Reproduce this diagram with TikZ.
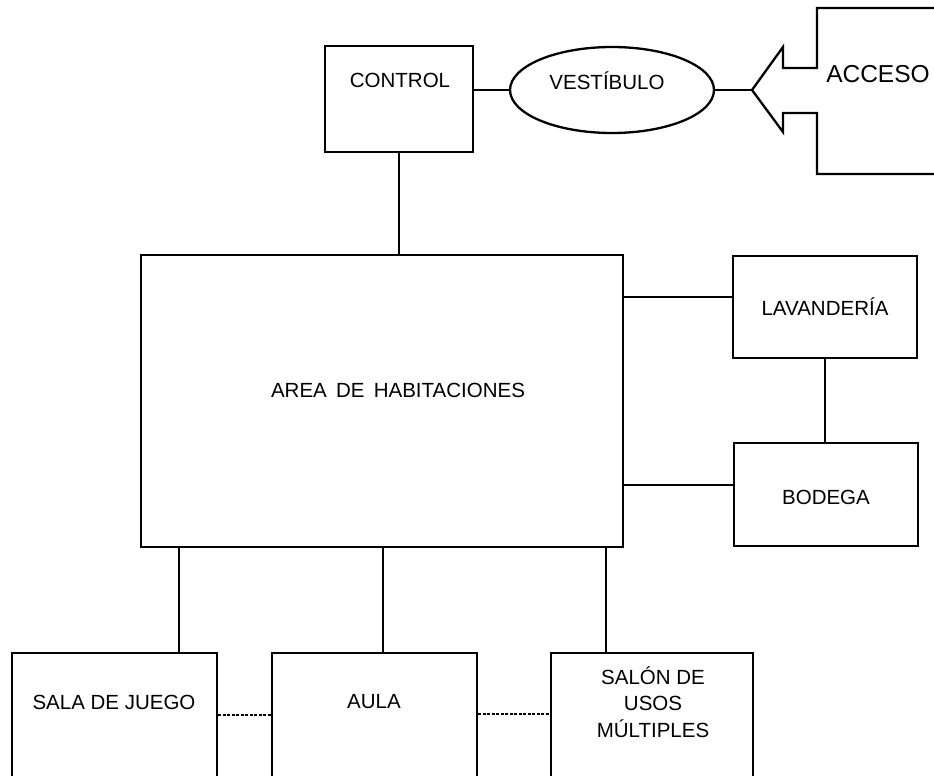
\documentclass[tikz,border=0pt]{standalone}
\usepackage{fontspec}
\setmainfont{Liberation Sans}
\usetikzlibrary{shapes.geometric}
\begin{document}
\begin{tikzpicture}[x=1pt,y=-1pt,
  box/.style={draw=black,line width=2.3pt,rectangle,inner sep=0pt,fill=none},
  lab/.style={inner sep=0pt,font=\fontsize{20.5}{26.5}\selectfont,align=center,text=black},
  link/.style={draw=black,line width=2.3pt},
  dotlink/.style={draw=black,line width=1.3pt,dash pattern=on 3pt off 1.5pt}]
\useasboundingbox (0,0) rectangle (934,776);
\fill[white] (0,0) rectangle (934,776);
\clip (0,0) rectangle (934,776);
% boxes
\node[box,minimum width=148pt,minimum height=106pt] (control) at (399,99) {};
\node[box,ellipse,minimum width=204pt,minimum height=86pt] (vest) at (612,90) {};
\node[box,minimum width=482pt,minimum height=292pt] (area) at (382,401) {};
\node[box,minimum width=184pt,minimum height=102pt] (lav) at (825,307) {};
\node[box,minimum width=184pt,minimum height=103pt] (bod) at (826,494.5) {};
\node[box,minimum width=205pt,minimum height=180pt,anchor=north] (sala) at (114.5,652) {};
\node[box,minimum width=205pt,minimum height=180pt,anchor=north] (aula) at (374.5,652) {};
\node[box,minimum width=202pt,minimum height=180pt,anchor=north] (salon) at (652,652) {};
% acceso shape
\coordinate (tip) at (752,90);
\draw[line width=2.3pt,line join=miter] (783,68) -- (783,47) -- (tip) -- (783,132) -- (783,113) -- (817,113) -- (817,174) -- (960,174) -- (960,8) -- (817,8) -- (817,68) -- cycle;
% labels
\node[lab] (controlt) at (400,80) {CONTROL};
\node[lab] (vestt) at (607,81) {VESTÍBULO};
\node[lab,font=\fontsize{24.5}{28}\selectfont] (accesot) at (878,74) {ACCESO};
\node[lab] (areat) at (398,390) {AREA\hspace{0.45em}DE\hspace{0.45em}HABITACIONES};
\node[lab] (lavt) at (825,307) {LAVANDERÍA};
\node[lab] (bodt) at (826,497) {BODEGA};
\node[lab] (salat) at (114,702) {SALA DE JUEGO};
\node[lab] (aulat) at (374,702) {AULA};
\node[lab] (salont) at (653,702) {SALÓN DE\\USOS\\MÚLTIPLES};
% connectors
\draw[link] (control.east |- vest.west) -- (vest.west);
\draw[link] (vest.east) -- (tip);
\draw[link] (control.south) -- (control.south |- area.north);
\draw[link] (area.east |- 0,297) -- (lav.west |- 0,297);
\draw[link] (lav.south) -- (lav.south |- bod.north);
\draw[link] (area.east |- 0,485) -- (bod.west |- 0,485);
\draw[link] (179,547) coordinate (a1) -- (a1 |- sala.north);
\draw[link] (383,547) coordinate (a2) -- (a2 |- aula.north);
\draw[link] (606,547) coordinate (a3) -- (a3 |- salon.north);
\draw[dotlink] (sala.east |- 0,715) -- (aula.west |- 0,715);
\draw[dotlink] (aula.east |- 0,714) -- (salon.west |- 0,714);
\end{tikzpicture}
\end{document}
